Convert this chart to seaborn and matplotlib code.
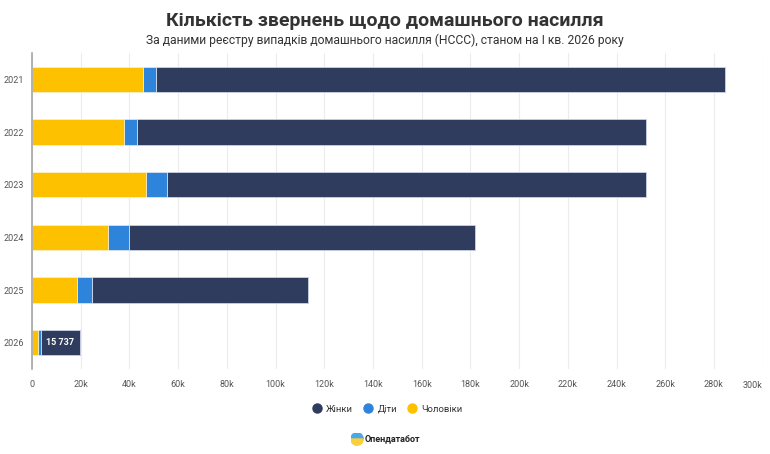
import numpy as np
import pandas as pd
import matplotlib.pyplot as plt
import seaborn as sns
from matplotlib.ticker import FuncFormatter, MultipleLocator
from matplotlib.lines import Line2D
from matplotlib.patches import Wedge
from matplotlib.transforms import blended_transform_factory

# Data
years = ['2021', '2022', '2023', '2024', '2025', '2026']
men = [45500, 37600, 46800, 31400, 18600, 2500]
kids = [5500, 5600, 8600, 8500, 6000, 1300]
women = [233500, 208800, 196600, 142000, 88700, 15737]

df = pd.DataFrame({'Рік': years, 'Чоловіки': men, 'Діти': kids, 'Жінки': women})
df['men_kids'] = df['Чоловіки'] + df['Діти']
df['total'] = df['men_kids'] + df['Жінки']

c_women = '#2f3c5e'
c_kids = '#2e84db'
c_men = '#fdc100'

sns.set_style('white')
plt.rcParams['font.family'] = ['Roboto', 'DejaVu Sans']

fig = plt.figure(figsize=(7.7, 4.54), dpi=100)
ax = fig.add_axes([32 / 770, 1 - 369 / 454, (762.7 - 32) / 770, (369 - 53) / 454])

# stacked bars drawn as cumulative layers
sns.barplot(data=df, x='total', y='Рік', orient='h', color=c_women, width=0.48,
            edgecolor='#c8d2e4', linewidth=0.6, saturation=1, ax=ax)
sns.barplot(data=df, x='men_kids', y='Рік', orient='h', color=c_kids, width=0.48,
            edgecolor='#dfe8f5', linewidth=0.6, saturation=1, ax=ax)
sns.barplot(data=df, x='Чоловіки', y='Рік', orient='h', color=c_men, width=0.48,
            edgecolor='#fff2c8', linewidth=0.6, saturation=1, ax=ax)

# label on 2026 women segment
last = df.iloc[-1]
ax.text((last['men_kids'] + last['total']) / 2, 5, f"{last['Жінки']:,}".replace(',', ' '),
        color='white', fontsize=6.5, fontweight='bold', ha='center', va='center')

xmax = 300000
ax.set_xlim(0, xmax)
ax.set_ylim(5.5, -0.5)
ax.xaxis.set_major_locator(MultipleLocator(20000))
ax.xaxis.set_major_formatter(FuncFormatter(
    lambda v, p: '0' if v == 0 else ('' if v >= xmax else f'{int(v / 1000)}k')))
ax.set_xlabel('')
ax.set_ylabel('')
ax.grid(axis='x', color='#ececec', linewidth=0.8)
ax.set_axisbelow(True)
for s in ['top', 'right', 'bottom']:
    ax.spines[s].set_visible(False)
ax.spines['left'].set_color('#a6a6a6')
ax.spines['left'].set_linewidth(1.2)
ax.tick_params(axis='both', length=0, labelsize=6.5, colors='#555555')
ax.tick_params(axis='y', pad=6)
ax.tick_params(axis='x', pad=8)

# last x label shifted inside the figure, as in the original
trans = blended_transform_factory(ax.transData, ax.transAxes)
ax.text(xmax, -16 / 316, f'{xmax // 1000}k', transform=trans, ha='right', va='center',
        fontsize=6.5, color='#555555')

# titles
fig.text(0.5, 1 - 21 / 454, 'Кількість звернень щодо домашнього насилля', ha='center', va='center',
         fontsize=14, fontweight='bold', color='#333333')
fig.text(0.5, 1 - 40 / 454, 'За даними реєстру випадків домашнього насилля (НССС), станом на I кв. 2026 року',
         ha='center', va='center', fontsize=8.7, color='#333333')

# legend
handles = [Line2D([], [], marker='o', linestyle='', markersize=6.5, color=c)
           for c in [c_women, c_kids, c_men]]
fig.legend(handles, ['Жінки', 'Діти', 'Чоловіки'], loc='center', bbox_to_anchor=(0.5, 1 - 409 / 454),
           ncol=3, frameon=False, fontsize=6.8, handletextpad=0.0, columnspacing=0.6,
           labelcolor='#333333')

# logo
lx, ly = 357 / 770, 1 - 439 / 454
lax = fig.add_axes([lx - 6.5 / 770, ly - 6.5 / 454, 13 / 770, 13 / 454])
lax.add_patch(Wedge((0, 0), 1, 0, 180, color='#4aa8e8'))
lax.add_patch(Wedge((0, 0), 1, 180, 360, color='#f9cf3a'))
lax.set_xlim(-1.05, 1.05)
lax.set_ylim(-1.05, 1.05)
lax.axis('off')
fig.text(365 / 770, ly, 'Опендатабот', ha='left', va='center', fontsize=6.5, fontweight='bold', color='#222222')

fig.savefig('out.png', dpi=100, facecolor='white')
